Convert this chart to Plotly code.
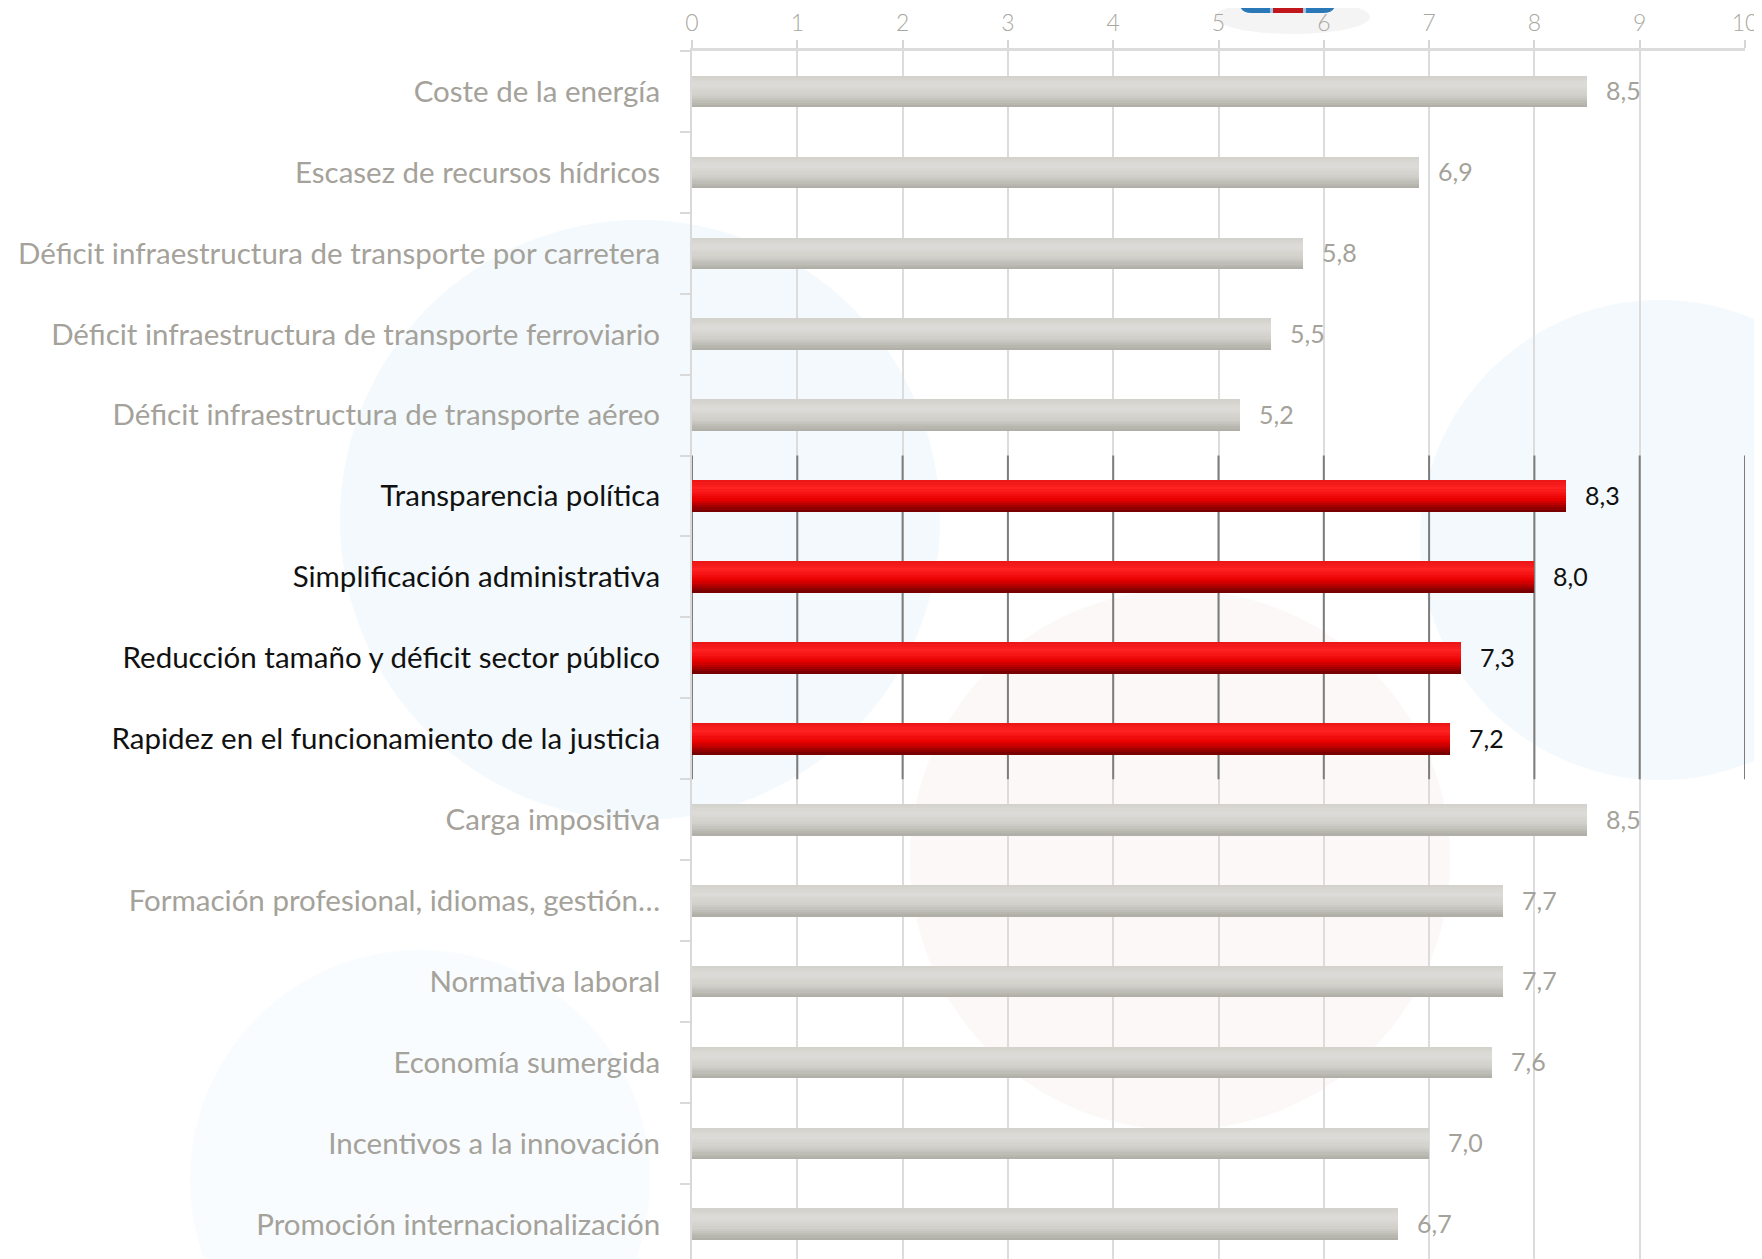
import plotly.graph_objects as go

# data
categories = [
    "Coste de la energía",
    "Escasez de recursos hídricos",
    "Déficit infraestructura de transporte por carretera",
    "Déficit infraestructura de transporte ferroviario",
    "Déficit infraestructura de transporte aéreo",
    "Transparencia política",
    "Simplificación administrativa",
    "Reducción tamaño y déficit sector público",
    "Rapidez en el funcionamiento de la justicia",
    "Carga impositiva",
    "Formación profesional, idiomas, gestión…",
    "Normativa laboral",
    "Economía sumergida",
    "Incentivos a la innovación",
    "Promoción internacionalización",
]
values = [8.5, 6.9, 5.8, 5.5, 5.2, 8.3, 8.0, 7.3, 7.2, 8.5, 7.7, 7.7, 7.6, 7.0, 6.7]
highlight = [False] * 5 + [True] * 4 + [False] * 6
x_ticks = list(range(0, 11))

# page body has an 8px margin, so the figure is a bit smaller than the window
OFF = 8
W, H = 1762 - OFF, 1259 - OFF
ML, MR, MT, MB = 692 - OFF, 17, 51 - OFF, 0
FONT = "Lato"
GREY_TXT = "#a4a29a"


def px(x):  # page pixel -> paper x
    return (x - OFF - ML) / (W - ML - MR)


def py(y):  # page pixel -> paper y
    return (H - MB - (y - OFF)) / (H - MT - MB)


def mix(c1, c2, t):
    a = [int(c1[i:i + 2], 16) for i in (1, 3, 5)]
    b = [int(c2[i:i + 2], 16) for i in (1, 3, 5)]
    return "#" + "".join("%02x" % round(a[k] + (b[k] - a[k]) * t) for k in range(3))


def grad(stops, t):
    for (t0, c0), (t1, c1) in zip(stops, stops[1:]):
        if t0 <= t <= t1:
            return mix(c0, c1, (t - t0) / (t1 - t0))
    return stops[-1][1]


grey_stops = [(0, "#d2d1cc"), (0.3, "#dddcd8"), (0.65, "#cfcec8"), (1, "#adaba4")]
red_stops = [(0, "#e81414"), (0.25, "#ff2222"), (0.6, "#e80000"), (1, "#6e0000")]

grey_vals = [v if not h else None for v, h in zip(values, highlight)]
red_vals = [v if h else None for v, h in zip(values, highlight)]

fig = go.Figure()

# cylinder look: each bar is drawn as thin horizontal strips
bw = 0.39
n = 14
for vals, stops in ((grey_vals, grey_stops), (red_vals, red_stops)):
    for i in range(n):
        fig.add_trace(go.Bar(
            y=categories, x=vals, orientation="h",
            width=bw / n * 1.08, offset=-bw / 2 + i * bw / n,
            marker=dict(color=grad(stops, (i + 0.5) / n), line=dict(width=0)),
            hoverinfo="skip", showlegend=False,
        ))

# value labels
for c, v, h in zip(categories, values, highlight):
    fig.add_annotation(
        x=v, y=c, text=f"{v:.1f}".replace(".", ","), showarrow=False,
        xanchor="left", xshift=17, yshift=1,
        font=dict(family=FONT, size=25, color="#111111" if h else GREY_TXT),
    )

ticktext = [f'<span style="color:#111111">{c}</span>' if h else c
            for c, h in zip(categories, highlight)]

shapes = []
# faint watermark circles behind the chart
for cx, cy, r, col in [
    (640, 520, 300, "rgba(232,243,250,0.5)"),
    (1180, 860, 270, "rgba(250,238,238,0.40)"),
    (1660, 540, 240, "rgba(232,243,250,0.5)"),
    (420, 1180, 230, "rgba(236,245,251,0.30)"),
]:
    shapes.append(dict(type="circle", xref="paper", yref="paper", layer="below",
                       x0=px(cx - r), x1=px(cx + r), y0=py(cy + r), y1=py(cy - r),
                       fillcolor=col, line=dict(width=0)))

# darker frame around the highlighted block
y0_idx = highlight.index(True) - 0.5
y1_idx = len(highlight) - highlight[::-1].index(True) - 0.5
for xv in x_ticks:
    shapes.append(dict(type="line", xref="x", yref="y", layer="between",
                       x0=xv, x1=xv, y0=y0_idx, y1=y1_idx,
                       line=dict(color="#7d7d7d", width=2)))
b = y0_idx
while b <= y1_idx:
    shapes.append(dict(type="line", xref="x", yref="y", xsizemode="pixel", xanchor=0,
                       x0=-10, x1=0, y0=b, y1=b, line=dict(color="#6b6b6b", width=2)))
    b += 1

# logo peeking at the top
shapes += [
    dict(type="circle", xref="paper", yref="paper", layer="below",
         x0=px(1215), x1=px(1370), y0=py(34), y1=py(0),
         fillcolor="rgba(0,0,0,0.045)", line=dict(width=0)),
    dict(type="path", xref="paper", yref="paper",
         path=f"M {px(1240)},{py(-2)} L {px(1240)},{py(4)} Q {px(1240)},{py(13)} {px(1252)},{py(13)} "
              f"L {px(1323)},{py(13)} Q {px(1335)},{py(13)} {px(1335)},{py(4)} L {px(1335)},{py(-2)} Z",
         fillcolor="#2a78b8", line=dict(width=0)),
    dict(type="rect", xref="paper", yref="paper", x0=px(1273), x1=px(1303), y0=py(13), y1=py(-2),
         fillcolor="#c0161c", line=dict(width=0)),
    dict(type="rect", xref="paper", yref="paper", x0=px(1303), x1=px(1306), y0=py(13), y1=py(-2),
         fillcolor="#9cc8ea", line=dict(width=0)),
    dict(type="rect", xref="paper", yref="paper", x0=px(1270), x1=px(1273), y0=py(13), y1=py(-2),
         fillcolor="#9cc8ea", line=dict(width=0)),
]

fig.update_layout(
    width=W, height=H,
    margin=dict(l=ML, r=MR, t=MT, b=MB, autoexpand=False),
    paper_bgcolor="white", plot_bgcolor="rgba(0,0,0,0)",
    barmode="overlay", bargap=0,
    font=dict(family=FONT, color=GREY_TXT),
    shapes=shapes,
    xaxis=dict(
        side="top", range=[0, 10], tickvals=x_ticks, ticktext=[str(t) for t in x_ticks],
        showgrid=True, gridcolor="#dcdcdc", gridwidth=2,
        showline=True, linecolor="#dcdcdc", linewidth=3,
        ticks="outside", ticklen=8, tickcolor="#d6d6d6", tickwidth=2,
        tickfont=dict(family=FONT, size=23, color="#a9a7a0", weight=300),
        ticklabelstandoff=0,
        zeroline=False, fixedrange=True, automargin=False,
    ),
    yaxis=dict(
        type="category", categoryorder="array", categoryarray=categories,
        range=[14.43, -0.5], tickvals=categories, ticktext=ticktext,
        ticks="outside", tickson="boundaries", ticklen=10, tickcolor="#d9d9d9", tickwidth=2,
        showline=True, linecolor="#d9d9d9", linewidth=2, showgrid=False,
        tickfont=dict(family=FONT, size=29.5, color=GREY_TXT),
        ticklabelstandoff=24, fixedrange=True, automargin=False,
    ),
)

fig.write_html("out.html")
